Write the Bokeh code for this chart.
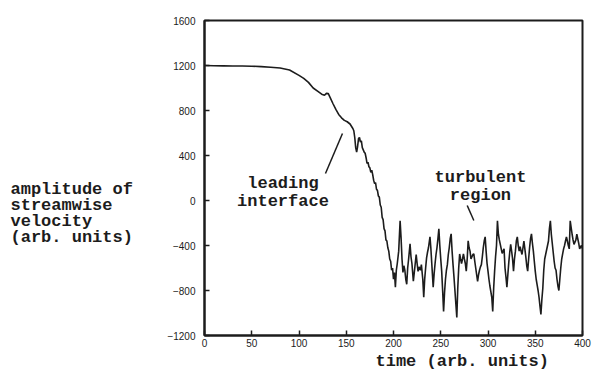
from bokeh.plotting import figure
from bokeh.models import Label, FixedTicker, Title, Range1d
from bokeh.layouts import row
from bokeh.embed import file_html
from bokeh.resources import INLINE

# ---- data ----
time = [0, 10, 20, 30, 40, 50, 60, 70, 80, 90, 100, 105, 110, 115, 120, 124, 127,
        129, 131, 133, 136, 139, 142, 145, 148, 151, 154, 157,
        158, 159, 160, 161, 162, 163, 164, 165, 166, 167, 168, 169, 170, 171, 172,
        173, 174, 175, 176, 177, 178, 179, 180, 181, 182, 183, 184, 185, 186, 187,
        188, 189, 190, 191, 192, 193, 194, 195, 196, 197, 198, 199, 200, 201, 202,
        203, 204, 205.5, 207, 208, 209, 210, 211, 212, 213, 214, 215, 216, 217.5,
        218.5, 219.5, 221, 222, 223, 224, 225, 226, 227, 228.5, 229.5, 231, 232,
        233, 234, 235, 236, 237, 238.6, 239.5, 240.5, 242, 243, 244, 245, 246, 247,
        248, 249, 250, 251, 252, 253, 254, 255, 256, 257, 258, 259, 260, 261, 262,
        263, 264, 265, 266, 267, 268, 269, 270, 271, 272, 273, 274, 275, 276, 277,
        278, 279, 280, 281, 282, 283, 284, 285, 286, 287, 288, 289, 290, 291, 292,
        293, 294, 295, 296, 297, 298, 299, 300, 301, 302, 303, 304, 305, 306, 307,
        308, 309, 310, 311, 312, 313, 314, 315, 316, 317, 318, 319, 320, 321, 322,
        323, 324, 325, 326, 327, 328, 329, 330, 331, 332, 333, 334, 335, 336, 337,
        338, 339, 340, 341, 342, 343, 344, 345, 346, 347, 348, 349, 350, 351, 352,
        353, 354, 355, 356, 357, 358, 359, 360, 361, 362, 363, 364, 365, 366, 367,
        368, 369, 370, 371, 372, 373, 374, 375, 376, 377, 378, 379, 380, 381, 382,
        383, 384, 385, 386, 387, 388, 389, 390, 391, 392, 393, 394, 395, 396, 397,
        398, 399, 400]
amplitude = [1200, 1198, 1197, 1196, 1195, 1194, 1190, 1185, 1178, 1160, 1112, 1085,
             1050, 1000, 970, 945, 935, 952, 950, 915, 860, 810, 765, 735, 712, 700,
             680, 640,
             620, 560, 470, 430, 480, 550, 560, 520, 530, 470, 450, 430, 420, 380,
             330, 340, 300, 290, 250, 270, 230, 180, 150, 160, 100, 90, 40, 30, -40,
             -60, -150, -170, -250, -270, -350, -360, -420, -450, -520, -540, -620,
             -600, -700, -640, -771,
             -620, -560, -450, -180, -330, -520, -640, -580, -620, -700, -745, -600,
             -520, -386, -500, -560, -718, -640, -560, -480, -560, -630, -590, -620,
             -570, -700, -860, -700, -600, -510, -460, -420, -323, -420, -560, -771,
             -650, -560, -480, -420, -340, -251, -400, -520, -630, -800, -987, -820,
             -700, -620, -570, -480, -420, -340, -296, -450, -570, -680, -800, -920,
             -1040, -780, -600, -475, -520, -560, -520, -475, -520, -560, -628, -520,
             -359, -420, -450, -520, -500, -480, -475, -540, -600, -660, -718, -660,
             -620, -590, -570, -500, -420, -360, -323, -450, -560, -628, -700, -760,
             -810, -860, -987, -780, -628, -500, -400, -180, -300, -350, -390, -430,
             -470, -450, -430, -600, -680, -771, -660, -550, -460, -390, -450, -520,
             -628, -520, -450, -360, -323, -400, -450, -410, -450, -480, -420, -360,
             -430, -500, -580, -628, -520, -420, -340, -296, -380, -450, -540, -628,
             -700, -750, -800, -860, -940, -1013, -880, -780, -620, -520, -480, -440,
             -400, -360, -250, -180, -300, -380, -460, -540, -600, -620, -700, -760,
             -800, -700, -600, -520, -475, -430, -400, -360, -323, -360, -400, -430,
             -180, -240, -300, -350, -390, -370, -350, -300, -340, -380, -430, -410,
             -400, -430, -460, -450, -440]

x_ticks = [0, 50, 100, 150, 200, 250, 300, 350, 400]
y_ticks = [-1200, -800, -400, 0, 400, 800, 1200, 1600]

y_label_lines = ["amplitude of", "streamwise", "velocity", "(arb. units)"]
x_label = "time (arb. units)"

# annotation pointer lines (data coords)
leading_ptr_x = [128, 146]
leading_ptr_y = [240, 596]
turb_ptr_x = [278, 285]
turb_ptr_y = [-44, -178]

mono = "Liberation Mono"
ink = "#1c1c1c"
LEFT_W = 150
H = 371
FRAME_TOP, FRAME_BOTTOM = 20, 335
TXT = "17px"

# ---- left panel holding the multi-line y-axis caption ----
# (its frame is aligned with the main frame by the row layout, so the y range
#  is set to the page rows the frame covers)
side = figure(width=LEFT_W, height=H, x_range=Range1d(0, LEFT_W),
              y_range=Range1d(FRAME_BOTTOM, FRAME_TOP),
              output_backend="svg", toolbar_location=None,
              x_axis_location=None, y_axis_location=None,
              min_border_left=0, min_border_right=0,
              min_border_top=FRAME_TOP, min_border_bottom=H - FRAME_BOTTOM)
side.outline_line_color = None
side.xgrid.visible = False
side.ygrid.visible = False
side.background_fill_color = "white"
side.border_fill_color = "white"

ylab_y = [189, 205, 221, 237]
for yy, t in zip(ylab_y, y_label_lines):
    side.add_layout(Label(x=10, y=yy, text=t, text_font=mono, text_font_size=TXT,
                          text_color=ink, text_align="left", text_baseline="middle",
                          text_font_style="bold"))

# ---- main plot ----
p = figure(width=592 - LEFT_W, height=H, x_range=(0, 400), y_range=(-1200, 1600),
           output_backend="svg", toolbar_location=None,
           min_border_left=204 - LEFT_W, min_border_right=10,
           min_border_top=FRAME_TOP, min_border_bottom=H - FRAME_BOTTOM)

p.background_fill_color = "white"
p.border_fill_color = "white"
p.outline_line_color = ink
p.outline_line_width = 2
p.xgrid.visible = False
p.ygrid.visible = False

for ax in (p.xaxis, p.yaxis):
    ax.axis_line_width = 2
    ax.axis_line_color = ink
    ax.major_tick_in = 5
    ax.major_tick_out = 0
    ax.major_tick_line_width = 1.5
    ax.major_tick_line_color = ink
    ax.minor_tick_line_color = None
    ax.major_label_text_font = "Liberation Sans"
    ax.major_label_text_font_size = "10px"
    ax.major_label_text_color = ink

p.xaxis.ticker = FixedTicker(ticks=x_ticks)
p.yaxis.ticker = FixedTicker(ticks=y_ticks)
p.xaxis.major_label_standoff = 3
p.yaxis.major_label_standoff = 9

p.line(time, amplitude, line_color=ink, line_width=1.6)

p.line(leading_ptr_x, leading_ptr_y, line_color=ink, line_width=1.5)
p.line(turb_ptr_x, turb_ptr_y, line_color=ink, line_width=1.5)

def lab(x, y, t, align="left"):
    p.add_layout(Label(x=x, y=y, text=t, text_font=mono, text_font_size=TXT,
                       text_color=ink, text_align=align, text_baseline="middle",
                       text_font_style="bold"))

lab(83, 150, "leading", "center")
lab(83, -10, "interface", "center")
lab(292, 204, "turbulent", "center")
lab(292, 44, "region", "center")

p.add_layout(Title(text=x_label, align="left", offset=171, standoff=0,
                   text_font=mono, text_font_size=TXT, text_font_style="bold",
                   text_color=ink), "below")

layout = row(side, p, spacing=0)
open("out.html", "w").write(file_html(layout, INLINE))
